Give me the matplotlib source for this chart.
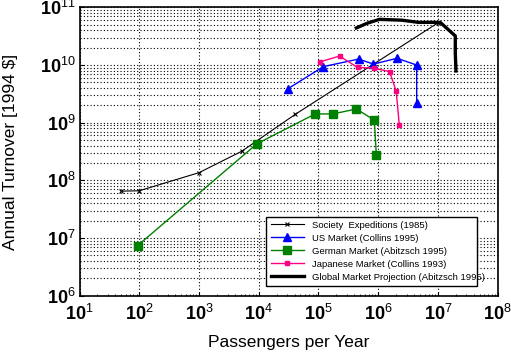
import numpy as np
import matplotlib.pyplot as plt
from matplotlib.patches import Rectangle
from matplotlib.ticker import LogLocator, FixedLocator, NullFormatter

plt.rcParams['font.family'] = ['Liberation Sans', 'DejaVu Sans']
plt.rcParams['mathtext.fontset'] = 'custom'
plt.rcParams['mathtext.rm'] = 'Liberation Sans'
plt.rcParams['mathtext.it'] = 'Liberation Sans'
plt.rcParams['mathtext.bf'] = 'Liberation Sans:bold'

# Society Expeditions (1985)
soc_x = [50, 100, 1000, 5.2e3, 4.1e4, 1.0e7]
soc_y = [6.5e7, 6.6e7, 1.36e8, 3.2e8, 1.4e9, 5.4e10]

# US Market (Collins 1995)
us_x = [3.1e4, 1.21e5, 4.7e5, 8.3e5, 2.06e6, 4.4e6, 4.4e6]
us_y = [3.9e9, 9.4e9, 1.27e10, 1.04e10, 1.31e10, 1.0e10, 2.2e9]

# German Market (Abitzsch 1995)
de_x = [94, 9.3e3, 8.8e4, 1.74e5, 4.3e5, 8.6e5, 9.3e5]
de_y = [7.4e6, 4.3e8, 1.42e9, 1.42e9, 1.73e9, 1.11e9, 2.75e8]

# Japanese Market (Collins 1993)
jp_x = [1.07e5, 2.25e5, 4.5e5, 8.6e5, 1.55e6, 2.0e6, 2.25e6]
jp_y = [1.14e10, 1.43e10, 9.1e9, 8.8e9, 7.7e9, 3.5e9, 9.2e8]

# Global Market Projection (Abitzsch 1995)
gl_x = [4.3e5, 6.5e5, 1.05e6, 2.5e6, 4.7e6, 1.09e7, 1.95e7, 1.95e7, 2.0e7]
gl_y = [4.4e10, 5.3e10, 6.2e10, 6.0e10, 5.5e10, 5.5e10, 3.2e10, 1.6e10, 7.9e9]

x_exp = list(range(1, 9))
y_exp = list(range(6, 12))

fig = plt.figure(figsize=(5.11, 3.52), dpi=100)
ax = fig.add_axes([0.1556, 0.160, 0.8184, 0.819])

ax.plot(soc_x, soc_y, color='black', lw=0.8, marker='x', ms=3.5, mew=0.8,
        label='Society  Expeditions (1985)')
ax.plot(us_x, us_y, color='#0000ff', lw=1.0, marker='^', ms=6,
        label='US Market (Collins 1995)')
ax.plot(de_x, de_y, color='#008000', lw=1.0, marker='s', ms=5.5,
        label='German Market (Abitzsch 1995)')
ax.plot(jp_x, jp_y, color='#ff0080', lw=1.0, marker='s', ms=3.2,
        label='Japanese Market (Collins 1993)')
ax.plot(gl_x, gl_y, color='black', lw=2.4,
        label='Global Market Projection (Abitzsch 1995)')

ax.set_xscale('log')
ax.set_yscale('log')
ax.set_xlim(10, 1e8)
ax.set_ylim(1e6, 1e11)

ax.xaxis.set_major_locator(FixedLocator([10.0 ** k for k in x_exp]))
ax.set_xticklabels([r'$\mathbf{10}^{%d}$' % k for k in x_exp])
ax.yaxis.set_major_locator(FixedLocator([10.0 ** k for k in y_exp]))
ax.set_yticklabels([r'$\mathbf{10}^{%d}$' % k for k in y_exp])
ax.xaxis.set_minor_locator(LogLocator(base=10, subs=np.arange(2, 10), numticks=20))
ax.yaxis.set_minor_locator(LogLocator(base=10, subs=np.arange(2, 10), numticks=20))
ax.xaxis.set_minor_formatter(NullFormatter())
ax.yaxis.set_minor_formatter(NullFormatter())

ax.tick_params(which='both', direction='in', labelsize=13)
ax.tick_params(which='major', length=3)
ax.tick_params(which='minor', length=1.5)
ax.tick_params(axis='y', which='minor', length=0)
ax.tick_params(axis='x', which='major', pad=6)
ax.tick_params(axis='y', which='major', pad=3)

grid_style = dict(color='black', linestyle=(0, (1, 2)), linewidth=0.8)
ax.grid(True, which='major', axis='both', **grid_style)
ax.grid(True, which='minor', axis='y', **grid_style)
ax.set_axisbelow(True)

for s in ax.spines.values():
    s.set_linewidth(1.2)

ax.set_xlabel('Passengers per Year', fontsize=12.5, labelpad=8)
ax.set_ylabel('Annual Turnover [1994 $]', fontsize=12.5)
ax.yaxis.set_label_coords(-0.147, 0.5)

leg = ax.legend(loc='lower left', bbox_to_anchor=(0.522, 0.1895),
                bbox_transform=fig.transFigure, fontsize=6.8, frameon=False,
                borderaxespad=0, handlelength=3.5, labelspacing=0.42,
                borderpad=0.4, handletextpad=0.9)
leg.set_zorder(5)

box = Rectangle((0.52, 0.1875), 0.4135, 0.197, transform=fig.transFigure,
                facecolor='white', edgecolor='black', linewidth=1.0, zorder=4)
ax.add_artist(box)
box.set_clip_on(False)

fig.savefig('out.png', dpi=100)
